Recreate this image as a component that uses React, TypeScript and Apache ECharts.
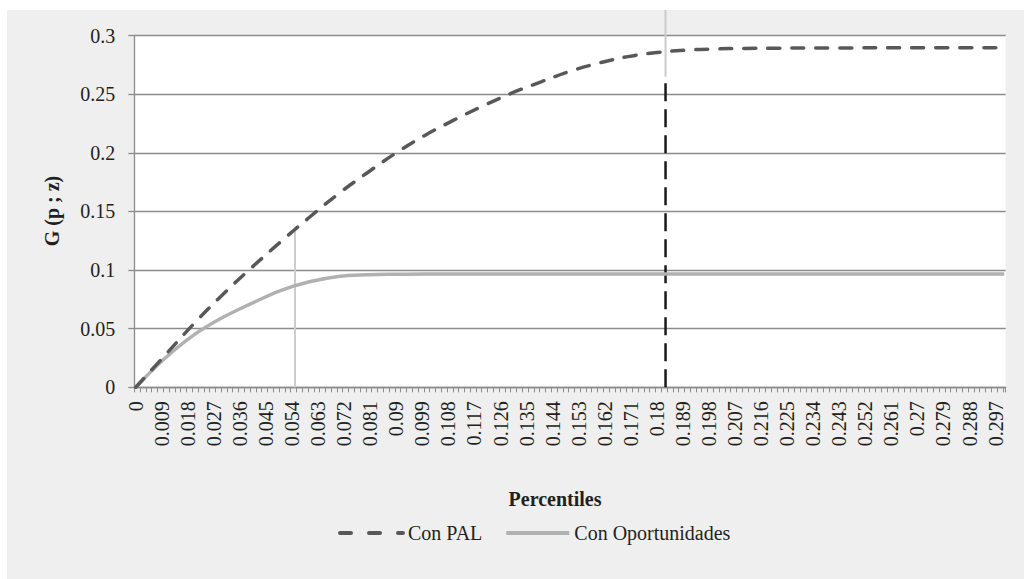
import React, { useEffect, useRef } from "react";
import * as echarts from "echarts";

// Percentile categories 0, 0.001, ..., 0.300
const categories: string[] = Array.from({ length: 301 }, (_, i) => String(Number((i / 1000).toFixed(3))));

// Con PAL (percentile, G)
const palP = [0, 0.01, 0.02, 0.03, 0.04, 0.05, 0.06, 0.07, 0.08, 0.09, 0.1, 0.11, 0.12, 0.13, 0.14, 0.15, 0.16, 0.17, 0.18, 0.19, 0.2, 0.21, 0.22, 0.24, 0.27, 0.3];
const palG = [0, 0.027, 0.054, 0.079, 0.102, 0.124, 0.145, 0.165, 0.183, 0.2, 0.215, 0.228, 0.24, 0.251, 0.2605, 0.2695, 0.2765, 0.2820, 0.2855, 0.2875, 0.2885, 0.289, 0.2892, 0.2894, 0.2895, 0.2895];

// Con Oportunidades (percentile, G)
const opoP = [0, 0.01, 0.02, 0.03, 0.04, 0.05, 0.06, 0.07, 0.08, 0.09, 0.1, 0.15, 0.2, 0.25, 0.3];
const opoG = [0, 0.0245, 0.0445, 0.0595, 0.0715, 0.0825, 0.09, 0.0945, 0.096, 0.0965, 0.0967, 0.0967, 0.0967, 0.0967, 0.0967];

// Reference vertical lines
const lightLineP = 0.055;
const lightLineTop = 0.1367;
const darkLineP = 0.183;
const darkLineTop = 0.2649;
const darkLineExtTop = 0.323;

const yTicks = { min: 0, max: 0.3, step: 0.05 };

const FONT = "'Liberation Serif', 'DejaVu Serif', serif";
const TXT = "#231f20";
const GRID = "#8c8c8c";
const PAL_C = "#58585a";
const OPO_C = "#b1b1b1";

const idx = (p: number) => Math.round(p * 1000);
const pairs = (ps: number[], gs: number[]) => ps.map((p, k) => [idx(p), gs[k]]);

export default function App() {
  const ref = useRef<HTMLDivElement>(null);
  useEffect(() => {
    if (!ref.current) return;
    const chart = echarts.init(ref.current, undefined, { renderer: "svg" });
    chart.setOption({
      animation: false,
      backgroundColor: "transparent",
      textStyle: { fontFamily: FONT },
      grid: {
        left: 127.3,
        right: 18.3,
        top: 25.5,
        bottom: 191.7,
        show: true,
        backgroundColor: "#ffffff",
        borderWidth: 0,
      },
      legend: {
        data: [
          { name: "Con PAL", lineStyle: { color: PAL_C, width: 4, type: [11, 18], cap: "round" } },
          { name: "Con Oportunidades", lineStyle: { color: OPO_C, width: 4 } },
        ],
        left: 326,
        top: 508,
        itemWidth: 63,
        itemHeight: 20,
        itemGap: 22,
        itemStyle: { color: "transparent", borderWidth: 0, opacity: 0 },
        textStyle: { fontFamily: FONT, fontSize: 20, color: TXT },
      },
      xAxis: {
        type: "category",
        data: categories,
        boundaryGap: true,
        axisLine: { show: true, lineStyle: { color: GRID, width: 1.3 } },
        axisTick: { show: true, interval: 1, length: 5, lineStyle: { color: GRID, width: 1 } },
        axisLabel: {
          interval: 8,
          rotate: 90,
          margin: 14,
          fontFamily: FONT,
          fontSize: 20,
          color: TXT,
          padding: [8, 0, 0, 0],
        },
        splitLine: { show: false },
      },
      yAxis: {
        type: "value",
        min: yTicks.min,
        max: yTicks.max,
        interval: yTicks.step,
        axisLine: { show: true, lineStyle: { color: GRID, width: 1.3 } },
        axisTick: { show: true, length: 6, lineStyle: { color: GRID, width: 1.3 } },
        axisLabel: { margin: 19, fontFamily: FONT, fontSize: 20, color: TXT },
        splitLine: { show: true, lineStyle: { color: GRID, width: 1.3 } },
      },
      graphic: [
        {
          type: "text",
          x: 45,
          y: 201,
          rotation: Math.PI / 2,
          style: {
            text: "G (p ; z)",
            fontFamily: FONT,
            fontSize: 20,
            fontWeight: "bold",
            fill: TXT,
            align: "center",
            verticalAlign: "middle",
          },
        },
        {
          type: "text",
          x: 548,
          y: 489,
          style: {
            text: "Percentiles",
            fontFamily: FONT,
            fontSize: 20,
            fontWeight: "bold",
            fill: TXT,
            align: "center",
            verticalAlign: "middle",
          },
        },
      ],
      series: [
        {
          name: "light-vert",
          type: "line",
          data: [[idx(lightLineP), 0], [idx(lightLineP), lightLineTop]],
          symbol: "none",
          lineStyle: { color: "#cccccc", width: 2 },
          z: 1,
        },
        {
          name: "dark-vert",
          type: "line",
          data: [[idx(darkLineP), 0], [idx(darkLineP), darkLineTop]],
          symbol: "none",
          lineStyle: { color: "#1a1a1a", width: 2.5, type: [18, 8] },
          z: 1,
        },
        {
          name: "light-vert-top",
          type: "line",
          data: [[idx(darkLineP), darkLineTop], [idx(darkLineP), darkLineExtTop]],
          symbol: "none",
          clip: false,
          lineStyle: { color: "#cccccc", width: 2 },
          z: 1,
        },
        {
          name: "Con Oportunidades",
          type: "line",
          data: pairs(opoP, opoG),
          symbol: "none",
          smooth: 0.4,
          itemStyle: { color: OPO_C },
          lineStyle: { color: OPO_C, width: 3.5 },
          z: 2,
        },
        {
          name: "Con PAL",
          type: "line",
          data: pairs(palP, palG),
          symbol: "none",
          smooth: 0.4,
          itemStyle: { color: PAL_C },
          lineStyle: { color: PAL_C, width: 3.5, type: [12, 12], cap: "round" },
          z: 3,
        },
      ],
    });
    return () => chart.dispose();
  }, []);
  return (
    <div style={{ position: "fixed", left: 0, top: 0, width: 1024, height: 579, background: "#ffffff" }}>
      <div
        ref={ref}
        style={{ position: "absolute", left: 7, top: 10, width: 1017, height: 569, background: "#efefef" }}
      />
    </div>
  );
}
